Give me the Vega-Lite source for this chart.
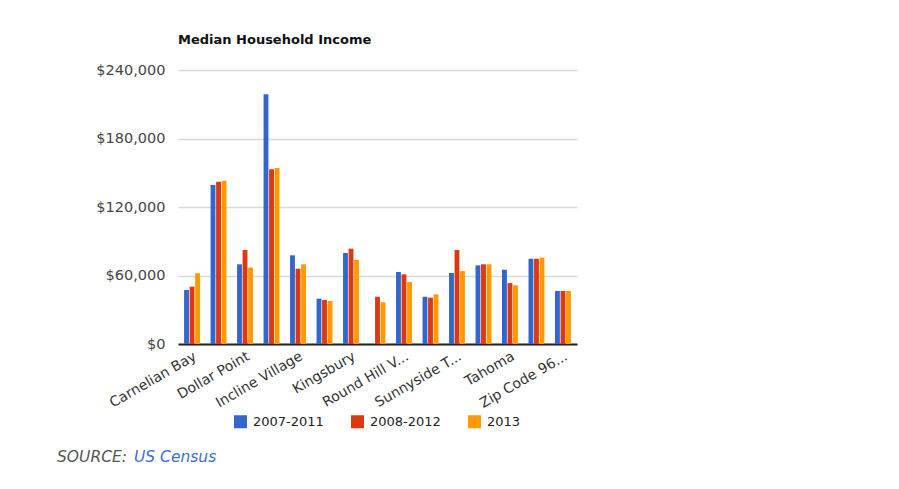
{
  "$schema": "https://vega.github.io/schema/vega-lite/v6.json",
  "background": "white",
  "padding": {"left": 57, "top": 34, "right": 5, "bottom": 5},
  "config": {"font": "DejaVu Sans", "view": {"stroke": null}, "legend": {"layout": {"bottom": {"anchor": "middle"}}}},
  "spacing": 18,
  "resolve": {"scale": {"color": "independent", "x": "independent"}, "legend": {"color": "independent"}},
  "vconcat": [
    {
      "width": 399,
      "height": 274,
      "title": {"text": "Median Household Income", "anchor": "start", "frame": "group", "fontSize": 13, "fontWeight": "bold", "color": "#111111", "offset": 15},
      "data": {"values": [
        {"place": "Carnelian Bay", "period": "2007-2011", "income": 47300},
        {"place": "Carnelian Bay", "period": "2008-2012", "income": 50200},
        {"place": "Carnelian Bay", "period": "2013", "income": 61900},
        {"place": "Crystal Bay", "period": "2007-2011", "income": 139300},
        {"place": "Crystal Bay", "period": "2008-2012", "income": 142200},
        {"place": "Crystal Bay", "period": "2013", "income": 143100},
        {"place": "Dollar Point", "period": "2007-2011", "income": 69800},
        {"place": "Dollar Point", "period": "2008-2012", "income": 82300},
        {"place": "Dollar Point", "period": "2013", "income": 66900},
        {"place": "Glenbrook", "period": "2007-2011", "income": 218700},
        {"place": "Glenbrook", "period": "2008-2012", "income": 153000},
        {"place": "Glenbrook", "period": "2013", "income": 154200},
        {"place": "Incline Village", "period": "2007-2011", "income": 77700},
        {"place": "Incline Village", "period": "2008-2012", "income": 66000},
        {"place": "Incline Village", "period": "2013", "income": 69800},
        {"place": "Kings Beach", "period": "2007-2011", "income": 39700},
        {"place": "Kings Beach", "period": "2008-2012", "income": 38500},
        {"place": "Kings Beach", "period": "2013", "income": 37700},
        {"place": "Kingsbury", "period": "2007-2011", "income": 79700},
        {"place": "Kingsbury", "period": "2008-2012", "income": 83500},
        {"place": "Kingsbury", "period": "2013", "income": 73600},
        {"place": "Marla Bay", "period": "2008-2012", "income": 41400},
        {"place": "Marla Bay", "period": "2013", "income": 36500},
        {"place": "Round Hill Village", "period": "2007-2011", "income": 63100},
        {"place": "Round Hill Village", "period": "2008-2012", "income": 61000},
        {"place": "Round Hill Village", "period": "2013", "income": 54300},
        {"place": "Stateline", "period": "2007-2011", "income": 41400},
        {"place": "Stateline", "period": "2008-2012", "income": 40600},
        {"place": "Stateline", "period": "2013", "income": 43500},
        {"place": "Sunnyside-Tahoe City", "period": "2007-2011", "income": 62200},
        {"place": "Sunnyside-Tahoe City", "period": "2008-2012", "income": 82300},
        {"place": "Sunnyside-Tahoe City", "period": "2013", "income": 63900},
        {"place": "Tahoe Vista", "period": "2007-2011", "income": 68900},
        {"place": "Tahoe Vista", "period": "2008-2012", "income": 69800},
        {"place": "Tahoe Vista", "period": "2013", "income": 69800},
        {"place": "Tahoma", "period": "2007-2011", "income": 65100},
        {"place": "Tahoma", "period": "2008-2012", "income": 53400},
        {"place": "Tahoma", "period": "2013", "income": 51400},
        {"place": "Zephyr Cove", "period": "2007-2011", "income": 74700},
        {"place": "Zephyr Cove", "period": "2008-2012", "income": 74700},
        {"place": "Zephyr Cove", "period": "2013", "income": 75600},
        {"place": "Zip Code 96150", "period": "2007-2011", "income": 46400},
        {"place": "Zip Code 96150", "period": "2008-2012", "income": 46400},
        {"place": "Zip Code 96150", "period": "2013", "income": 46400}
      ]},
      "mark": {"type": "bar"},
      "encoding": {
        "x": {
          "field": "place", "type": "nominal", "sort": null,
          "scale": {"paddingInner": 0.4, "paddingOuter": 0.23},
          "axis": {
            "title": null, "ticks": false, "domain": true, "domainColor": "#222222", "domainWidth": 2,
            "labelAngle": -30, "labelFontSize": 14, "labelColor": "#333333", "labelPadding": 5,
            "values": ["Carnelian Bay", "Dollar Point", "Incline Village", "Kingsbury", "Round Hill Village", "Sunnyside-Tahoe City", "Tahoma", "Zip Code 96150"],
            "labelExpr": "datum.label == 'Round Hill Village' ? 'Round Hill V...' : datum.label == 'Sunnyside-Tahoe City' ? 'Sunnyside T...' : datum.label == 'Zip Code 96150' ? 'Zip Code 96...' : datum.label"
          }
        },
        "xOffset": {"field": "period", "type": "nominal", "scale": {"paddingInner": 0.12}},
        "y": {
          "field": "income", "type": "quantitative",
          "scale": {"domain": [0, 240000]},
          "axis": {
            "title": null, "values": [0, 60000, 120000, 180000, 240000], "format": "$,.0f",
            "domain": false, "ticks": false, "labelPadding": 13, "labelFontSize": 14.5, "labelColor": "#444444",
            "gridColor": "#d8d8d8", "gridWidth": 1.5, "minExtent": 121, "maxExtent": 121
          }
        },
        "color": {
          "field": "period", "type": "nominal",
          "scale": {"domain": ["2007-2011", "2008-2012", "2013"], "range": ["#3366cc", "#dc3912", "#ff9900"]},
          "legend": {
            "title": null, "orient": "bottom", "direction": "horizontal", "symbolType": "square",
            "symbolSize": 169, "symbolStrokeWidth": 0, "labelFontSize": 13, "labelColor": "#222222",
            "columnPadding": 27, "labelOffset": 6, "offset": 4
          }
        }
      }
    },
    {
      "width": 77,
      "height": 20,
      "data": {"values": [{"t": "SOURCE:"}, {"t": "US Census"}]},
      "mark": {"type": "text", "align": "left", "fontStyle": "italic", "fontSize": 15.5, "dx": -121},
      "encoding": {
        "x": {"field": "t", "type": "nominal", "sort": null, "scale": {"type": "point", "padding": 0}, "axis": null},
        "text": {"field": "t"},
        "color": {"field": "t", "type": "nominal", "scale": {"domain": ["SOURCE:", "US Census"], "range": ["#555555", "#3b6fd4"]}, "legend": null}
      }
    }
  ]
}
